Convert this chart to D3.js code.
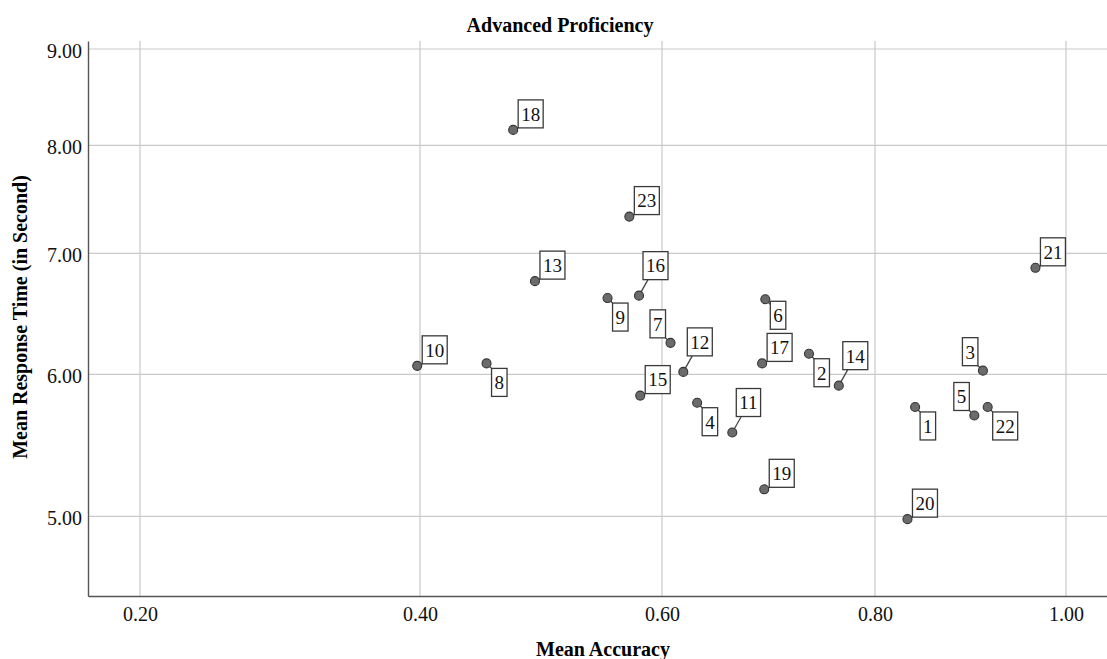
<!DOCTYPE html>
<html>
<head>
<meta charset="utf-8">
<script src="https://cdn.jsdelivr.net/npm/d3@7"></script>
<style>
  body { margin: 0; background: #fff; }
  svg { display: block; font-family: "Liberation Serif", "Times New Roman", serif; }
</style>
</head>
<body>
<svg id="chart" width="1107" height="659"></svg>
<script>
// values
const ids = [1, 2, 3, 4, 5, 6, 7, 8, 9, 10, 11, 12, 13, 14, 15, 16, 17, 18, 19, 20, 21, 22, 23];
const accuracy = [0.842, 0.738, 0.913, 0.633, 0.904, 0.697, 0.608, 0.455, 0.555, 0.398, 0.666, 0.620,
                  0.495, 0.766, 0.582, 0.581, 0.694, 0.477, 0.696, 0.834, 0.968, 0.918, 0.573];
const responseTime = [5.77, 6.17, 6.03, 5.80, 5.71, 6.62, 6.26, 6.09, 6.63, 6.07, 5.59, 6.02,
                      6.77, 5.92, 5.85, 6.65, 6.09, 8.16, 5.19, 4.98, 6.88, 5.77, 7.34];
const xTicks = [0.20, 0.40, 0.60, 0.80, 1.00];
const yTicks = [5.00, 6.00, 7.00, 8.00, 9.00];

// where each label box sits relative to its point
const labelSide = ['se', 'se', 'nw', 'se', 'nw', 'e', 'nw', 'se', 'se', 'ne', 'up', 'up',
                   'ne', 'up', 'ne', 'up', 'ne', 'ne', 'ne', 'ne', 'ne', 'se', 'ne'];

const svg = d3.select("#chart");
const plotL = 88, plotR = 1107, plotT = 41, plotB = 596;

// the axes in the original are not evenly spaced, so piecewise scales
const x = d3.scaleLinear()
    .domain([0.163, 0.2, 0.4, 0.6, 0.8, 1.0, 1.043])
    .range([plotL, 140, 420, 662, 875, 1066, plotR]);
const y = d3.scaleLinear()
    .domain([4.44, 5, 6, 7, 8, 9, 9.086])
    .range([plotB, 516.3, 374.3, 253.3, 145.3, 49, plotT]);

// grid
svg.append("g").selectAll("line")
    .data(xTicks).enter()
    .append("line")
        .attr("x1", d => x(d)).attr("x2", d => x(d))
        .attr("y1", plotT).attr("y2", plotB)
        .attr("stroke", "#c9c9c9").attr("stroke-width", 1.2);
svg.append("g").selectAll("line")
    .data(yTicks).enter()
    .append("line")
        .attr("x1", plotL).attr("x2", plotR)
        .attr("y1", d => y(d)).attr("y2", d => y(d))
        .attr("stroke", "#c9c9c9").attr("stroke-width", 1.2);

// axes
const xAxis = svg.append("g")
    .attr("transform", `translate(0,${plotB})`)
    .call(d3.axisBottom(x).tickValues(xTicks).tickFormat(d3.format(".2f")).tickSize(0).tickPadding(11));
const yAxis = svg.append("g")
    .attr("transform", `translate(${plotL},0)`)
    .call(d3.axisLeft(y).tickValues(yTicks).tickFormat(d3.format(".2f")).tickSize(0).tickPadding(6));

[xAxis, yAxis].forEach(a => {
    a.select(".domain").attr("stroke", "#555").attr("stroke-width", 1.4);
    a.selectAll("text")
        .attr("font-family", "Liberation Serif, serif")
        .attr("font-size", 20)
        .attr("fill", "#111");
});
yAxis.selectAll("text").attr("dy", "0.4em");

// titles
svg.append("text")
    .attr("x", 560).attr("y", 32)
    .attr("text-anchor", "middle")
    .attr("font-size", 20).attr("font-weight", "bold")
    .text("Advanced Proficiency");
svg.append("text")
    .attr("x", 603).attr("y", 656)
    .attr("text-anchor", "middle")
    .attr("font-size", 20).attr("font-weight", "bold")
    .text("Mean Accuracy");
svg.append("text")
    .attr("transform", "translate(27,317) rotate(-90)")
    .attr("text-anchor", "middle")
    .attr("font-size", 20).attr("font-weight", "bold")
    .text("Mean Response Time (in Second)");

// points and labels
const pts = ids.map((id, i) => ({ id: id, ax: accuracy[i], rt: responseTime[i], side: labelSide[i] }));
const boxH = 28;

const lab = svg.append("g").selectAll("g")
    .data(pts).enter()
    .append("g");

lab.each(function (d) {
    const g = d3.select(this);
    const px = x(d.ax), py = y(d.rt);
    const txt = g.append("text")
        .attr("font-size", 19)
        .attr("fill", "#111")
        .attr("text-anchor", "middle")
        .text(d.id);
    const w = txt.node().getComputedTextLength() + 6;
    let bx, by, lx, ly;
    if (d.side == "ne") { bx = px + 5; by = py - 2 - boxH; lx = bx; ly = by + boxH; }
    if (d.side == "up") { bx = px + 4; by = py - 16 - boxH; lx = bx + 5; ly = by + boxH; }
    if (d.side == "se") { bx = px + 5; by = py + 5; lx = bx; ly = by; }
    if (d.side == "nw") { bx = px - 5 - w; by = py - 5 - boxH; lx = bx + w; ly = by + boxH; }
    if (d.side == "e")  { bx = px + 5; by = py + 2; lx = bx; ly = by + 3; }

    g.insert("line", "text")
        .attr("x1", px).attr("y1", py).attr("x2", lx).attr("y2", ly)
        .attr("stroke", "#444").attr("stroke-width", 1.3);
    g.insert("rect", "text")
        .attr("x", bx).attr("y", by).attr("width", w).attr("height", boxH)
        .attr("fill", "#fff").attr("stroke", "#3a3a3a").attr("stroke-width", 1.3);
    txt.attr("x", bx + w / 2).attr("y", by + boxH / 2).attr("dy", "0.36em");
});

svg.append("g").selectAll("circle")
    .data(pts).enter()
    .append("circle")
        .attr("cx", d => x(d.ax))
        .attr("cy", d => y(d.rt))
        .attr("r", 4.5)
        .attr("fill", "#6b6b6b")
        .attr("stroke", "#333")
        .attr("stroke-width", 1.1);
</script>
</body>
</html>
